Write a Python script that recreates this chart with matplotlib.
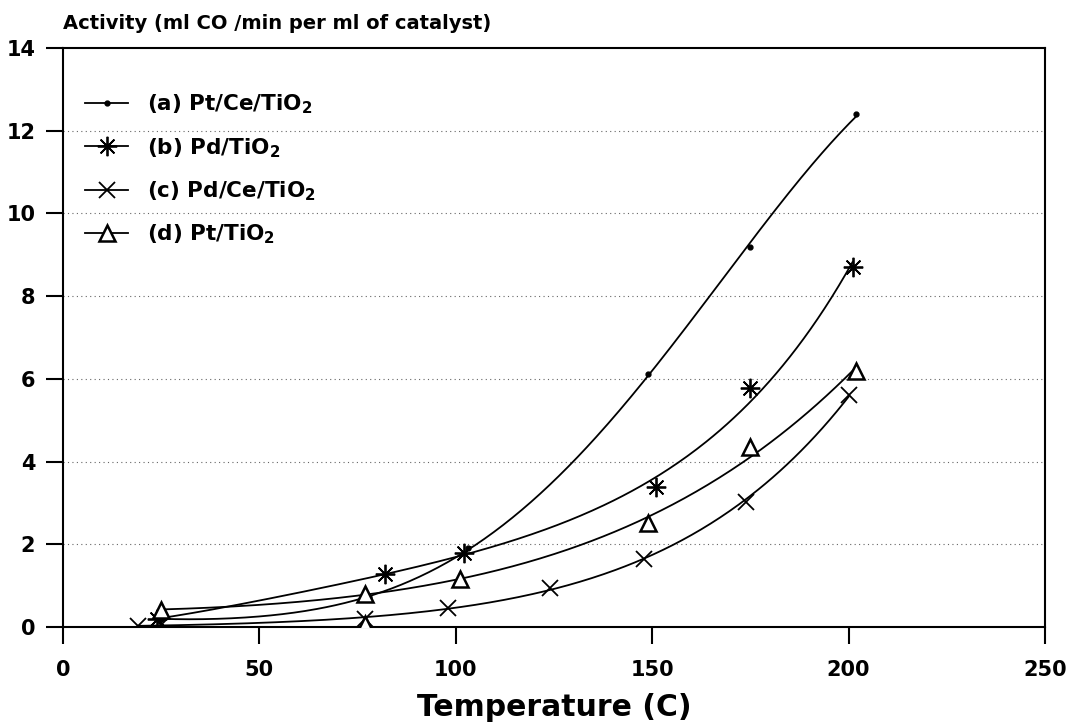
import numpy as np
import matplotlib
matplotlib.use('Agg')
import matplotlib.pyplot as plt

plt.rcParams['font.family'] = ['DejaVu Sans']
plt.rcParams['font.weight'] = 'bold'
plt.rcParams['mathtext.default'] = 'bf'

# Data (temperature in C, activity)
a_x = [25, 78, 103, 149, 175, 202]
a_y = [0.2, 0.72, 1.9, 6.12, 9.2, 12.4]

b_x = [24, 82, 102, 151, 175, 201]
b_y = [0.2, 1.27, 1.8, 3.38, 5.78, 8.7]

c_x = [19, 25, 77, 98, 124, 148, 174, 200]
c_y = [0.02, 0.05, 0.2, 0.47, 0.95, 1.64, 3.02, 5.62]

d_x = [25, 77, 101, 149, 175, 202]
d_y = [0.42, 0.8, 1.17, 2.51, 4.34, 6.2]
# lone triangle near the axis at ~77 C
d_extra_x = [77]
d_extra_y = [0.08]

labels = ['(a) Pt/Ce/TiO$_2$', '(b) Pd/TiO$_2$',
          '(c) Pd/Ce/TiO$_2$', '(d) Pt/TiO$_2$']


def fit_curve(xs, ys, n=300):
    # smooth least-squares curve: cubic fit of sqrt(y), squared back
    x = np.asarray(xs, float)
    y = np.asarray(ys, float)
    coef = np.polyfit(x, np.sqrt(y), 3)
    xf = np.linspace(x.min(), x.max(), n)
    return xf, np.polyval(coef, xf) ** 2


fig = plt.figure(figsize=(10.74, 7.25), dpi=100)
ax = fig.add_axes([0.0587, 0.1352, 0.9143, 0.7986])

series = [
    (a_x, a_y, dict(marker='o', markersize=3.5, mfc='black')),
    (b_x, b_y, dict(marker=(8, 2, 0), markersize=14, mew=1.3)),
    (c_x, c_y, dict(marker='x', markersize=12, mew=1.3)),
    (d_x, d_y, dict(marker='^', markersize=12, mfc='white', mew=1.8)),
]

for (xs, ys, style), lab in zip(series, labels):
    xf, yf = fit_curve(xs, ys)
    ax.plot(xf, yf, color='black', lw=1.3, zorder=2)
    ax.plot(xs, ys, ls='none', color='black', zorder=3, **style)
    ax.plot([], [], color='black', lw=1.3, label=lab, **style)

ax.plot(d_extra_x, d_extra_y, ls='none', marker='^', markersize=12,
        mfc='white', mec='black', mew=1.8, zorder=3)

ax.set_xlim(0, 250)
ax.set_ylim(0, 14)
ax.set_xticks(np.arange(0, 251, 50))
ax.set_yticks(np.arange(0, 15, 2))
ax.tick_params(direction='out', length=12, width=1.5, labelsize=15)
ax.tick_params(axis='x', pad=12)
ax.tick_params(axis='y', pad=8)
for s in ax.spines.values():
    s.set_linewidth(1.5)

for yv in range(2, 14, 2):
    ax.axhline(yv, color='0.4', ls=(0, (1, 3)), lw=0.8, zorder=1)

fig.text(0.516, 0.024, 'Temperature (C)', fontsize=21.5, fontweight='bold',
         ha='center', va='center')
fig.text(0.0587, 0.968, 'Activity (ml CO /min per ml of catalyst)',
         fontsize=14, fontweight='bold', ha='left', va='center')

ax.legend(loc='upper left', frameon=False, fontsize=15.5,
          handlelength=2.0, handletextpad=0.9, labelspacing=0.92,
          borderpad=0, borderaxespad=0,
          bbox_to_anchor=(0.0224, 0.923))

fig.savefig('out.png', dpi=100)
